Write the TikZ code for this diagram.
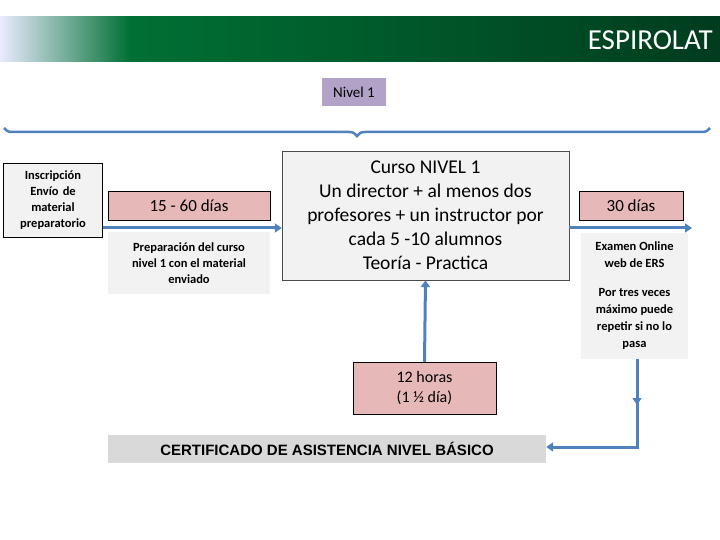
\documentclass[tikz,border=0pt]{standalone}
\usepackage{fontspec}
\setmainfont{Carlito}
\newfontfamily\arialfont{Liberation Sans}
\usetikzlibrary{positioning,decorations.pathreplacing,arrows.meta}
\definecolor{flowblue}{RGB}{79,129,189}
\definecolor{boxpink}{RGB}{230,184,183}
\definecolor{boxgray}{RGB}{242,242,242}
\definecolor{lavender}{RGB}{178,162,199}
\definecolor{bandgreen}{RGB}{0,112,52}
\definecolor{banddark}{RGB}{0,60,30}
\begin{document}
\begin{tikzpicture}[x=1pt,y=-1pt,
    pinkbox/.style={draw=black,fill=boxpink,align=center,inner sep=2pt},
    graybox/.style={fill=boxgray,align=center,inner sep=2pt},
    flow/.style={draw=flowblue,line width=3pt,-{Triangle[length=7pt,width=9pt]}}]
    \useasboundingbox (0,0) rectangle (720,540);

    % header band
    \shade[left color=blue!8!white,right color=bandgreen] (0,17) rectangle (130,62);
    \shade[left color=bandgreen,right color=banddark] (130,17) rectangle (720,62);
    \node[anchor=east,text=white,inner sep=0pt,font=\fontsize{29}{32}\selectfont] (title)
        at (713,40) {ESPIROLAT};

    % level and brace
    \node[fill=lavender,minimum width=64pt,minimum height=28pt,font=\fontsize{15}{17}\selectfont]
        (nivel) at (354,92) {Nivel 1};
    \draw[flowblue,line width=2.5pt,decorate,decoration={brace,amplitude=8pt,mirror}]
        (4,128) -- (710,128);

    % boxes
    \node[draw=black,fill=boxgray,align=center,text width=92pt,minimum height=74pt,
        font=\bfseries\fontsize{12.5}{16}\selectfont] (inscr) at (53,200)
        {Inscripción\\Envío de\\material\\preparatorio};
    \node[pinkbox,minimum width=162pt,minimum height=29pt,font=\fontsize{17}{19}\selectfont]
        (dias) at (189,205.5) {15 - 60 días};
    \node[graybox,minimum width=162pt,minimum height=62pt,
        font=\bfseries\fontsize{12.5}{16}\selectfont] (prep) at (189,263)
        {Preparación del curso\\nivel 1 con el material\\enviado};
    \node[draw=black!70,fill=boxgray,minimum width=287pt,minimum height=129pt,align=center,
        font=\fontsize{19.5}{24}\selectfont] (curso) at (425.5,215.5)
        {Curso NIVEL 1\\Un director + al menos dos\\profesores + un instructor por\\cada 5 -10 alumnos\\Teoría - Practica};
    \node[pinkbox,minimum width=104pt,minimum height=29pt,font=\fontsize{17}{19}\selectfont]
        (treinta) at (631,205.5) {30 días};
    \node[graybox,minimum width=107pt,minimum height=126pt,
        font=\bfseries\fontsize{12.5}{17}\selectfont] (examen) at (634.5,296)
        {Examen Online\\web de ERS\\[12pt]Por tres veces\\máximo puede\\repetir si no lo\\pasa};
    \node[pinkbox,minimum width=143pt,minimum height=52pt,font=\fontsize{16}{20}\selectfont]
        (horas) at (424.5,388) {12 horas\\(1 ½ día)};
    \node[fill=black!15,minimum width=438pt,minimum height=28pt,
        font=\arialfont\bfseries\fontsize{15}{17}\selectfont] (cert) at (327,449)
        {CERTIFICADO DE ASISTENCIA NIVEL BÁSICO};

    % connectors
    \coordinate (corner) at (637,447);
    \draw[flow] (inscr.east |- 0,228) -- (curso.west |- 0,228);
    \draw[flow] (curso.east |- 0,228) -- (692,228);
    \draw[flow] (horas.north) -- (curso.south);
    \draw[flow] (examen.south -| corner) -- (637,405);
    \draw[flow] (637,400) -- (corner) -- (cert.east |- corner);
\end{tikzpicture}
\end{document}
